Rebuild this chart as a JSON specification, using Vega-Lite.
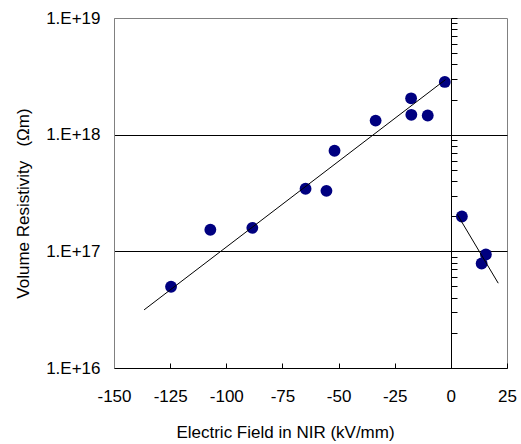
{
  "$schema": "https://vega.github.io/schema/vega-lite/v6.json",
  "width": 393,
  "height": 350,
  "autosize": "none",
  "padding": {"left": 114, "top": 18, "right": 14, "bottom": 76},
  "background": "white",
  "config": {
    "view": {"stroke": "#808080", "strokeWidth": 1},
    "font": "Liberation Sans",
    "axis": {"labelFont": "Liberation Sans", "titleFont": "Liberation Sans", "labelColor": "black", "titleColor": "black", "labelFontSize": 17, "titleFontSize": 17, "titleFontWeight": "normal"}
  },
  "datasets": {
    "pts": [
      {"field": -124.6, "rho": 4.97e16},
      {"field": -107.1, "rho": 1.53e17},
      {"field": -88.4, "rho": 1.59e17},
      {"field": -64.7, "rho": 3.44e17},
      {"field": -55.4, "rho": 3.3e17},
      {"field": -51.8, "rho": 7.28e17},
      {"field": -33.5, "rho": 1.32e18},
      {"field": -17.7, "rho": 2.05e18},
      {"field": -17.6, "rho": 1.48e18},
      {"field": -10.3, "rho": 1.46e18},
      {"field": -2.7, "rho": 2.83e18},
      {"field": 4.9, "rho": 1.99e17},
      {"field": 15.6, "rho": 9.4e16},
      {"field": 13.7, "rho": 7.86e16}
    ],
    "trend": [
      {"field": -136.6, "rho": 3.15e16, "seg": "neg"},
      {"field": -2.4, "rho": 2.96e18, "seg": "neg"},
      {"field": 2.8, "rho": 2.08e17, "seg": "pos"},
      {"field": 21.1, "rho": 5.33e16, "seg": "pos"}
    ]
  },
  "layer": [
    {
      "data": {"name": "pts"},
      "mark": {"type": "point", "filled": true, "color": "#000080", "opacity": 1, "size": 140},
      "encoding": {
        "x": {"field": "field", "type": "quantitative",
          "scale": {"domain": [-150, 25], "nice": false, "zero": false},
          "axis": {"title": "Electric Field in NIR (kV/mm)", "values": [-150, -125, -100, -75, -50, -25, 0, 25], "labelExpr": "'' + datum.value", "labelFlush": false, "labelOverlap": false, "grid": false, "domainColor": "black", "tickColor": "black", "tickSize": -5, "labelPadding": 25, "titleX": 171, "titleY": 64, "titleBaseline": "middle", "titleAnchor": null, "titleAlign": "center"}},
        "y": {"field": "rho", "type": "quantitative",
          "scale": {"type": "log", "domain": [1e16, 1e19], "nice": false},
          "axis": {"title": "Volume Resistivity\u00a0\u00a0 (\u03a9m)", "values": [1e16, 1e17, 1e18, 1e19], "labelExpr": "'1.E+' + format(round(log(datum.value)/LN10), 'd')", "labelFlush": false, "labelOverlap": false, "ticks": false, "labelPadding": 14, "domainColor": "#808080", "grid": true, "gridColor": {"condition": {"test": "datum.value > 2e16 && datum.value < 5e18", "value": "black"}, "value": "transparent"}, "gridOpacity": 1, "titleX": -91, "titleY": 185, "titleAngle": -90, "titleBaseline": "middle", "titleAlign": "center", "titleAnchor": null}}
      }
    },
    {
      "data": {"name": "trend"},
      "mark": {"type": "line", "color": "black", "strokeWidth": 1},
      "encoding": {
        "x": {"field": "field", "type": "quantitative"},
        "y": {"field": "rho", "type": "quantitative",
          "axis": {"orient": "right", "offset": -56, "title": null, "labels": false, "grid": false, "domainColor": "black", "tickColor": "black", "tickSize": 6, "values": [2e16, 3e16, 4e16, 5e16, 6e16, 7e16, 8e16, 9e16, 1e17, 2e17, 3e17, 4e17, 5e17, 6e17, 7e17, 8e17, 9e17, 1e18, 2e18, 3e18, 4e18, 5e18, 6e18, 7e18, 8e18, 9e18, 1e19]}},
        "detail": {"field": "seg"}
      }
    }
  ],
  "resolve": {"axis": {"y": "independent"}}
}
